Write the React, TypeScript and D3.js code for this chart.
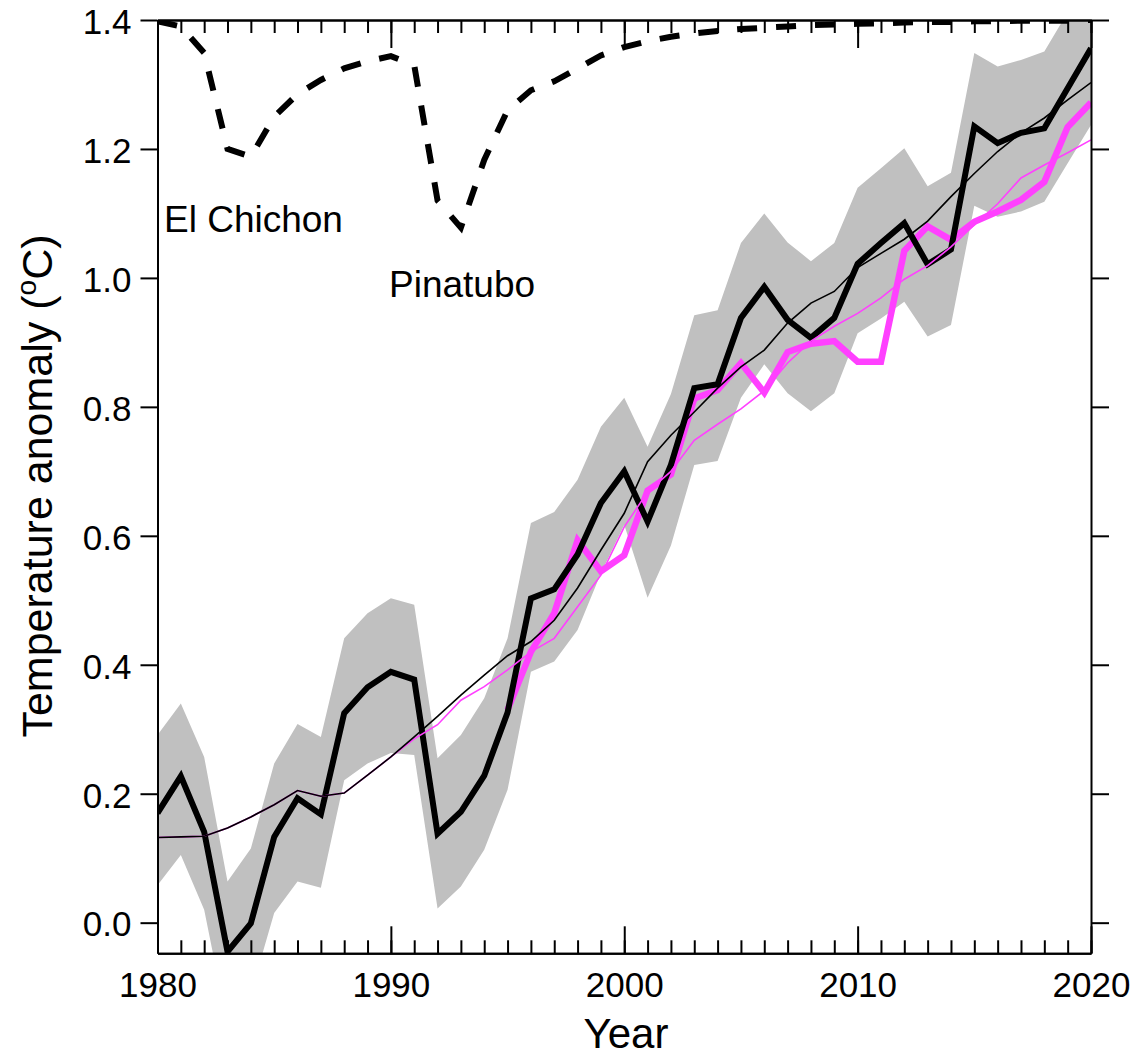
import React, { useEffect, useRef } from "react";
import * as d3 from "d3";

// annual values, 1980-2020
const years = [
  1980, 1981, 1982, 1983, 1984, 1985, 1986, 1987, 1988, 1989,
  1990, 1991, 1992, 1993, 1994, 1995, 1996, 1997, 1998, 1999,
  2000, 2001, 2002, 2003, 2004, 2005, 2006, 2007, 2008, 2009,
  2010, 2011, 2012, 2013, 2014, 2015, 2016, 2017, 2018, 2019, 2020,
];

// thick black line (observed)
const observed = [
  0.17, 0.227, 0.141, -0.045, -0.001, 0.133, 0.193, 0.168, 0.325, 0.365,
  0.389, 0.377, 0.138, 0.172, 0.228, 0.326, 0.503, 0.517, 0.571, 0.651,
  0.7, 0.622, 0.71, 0.829, 0.835, 0.938, 0.986, 0.935, 0.907, 0.938,
  1.022, 1.054, 1.085, 1.021, 1.044, 1.235, 1.209, 1.225, 1.232, 1.294, 1.356,
];

// grey uncertainty band
const bandUpper = [
  0.291, 0.34, 0.257, 0.064, 0.115, 0.247, 0.308, 0.288, 0.441, 0.48,
  0.503, 0.493, 0.255, 0.291, 0.348, 0.441, 0.62, 0.637, 0.687, 0.769,
  0.814, 0.738, 0.82, 0.942, 0.95, 1.054, 1.1, 1.055, 1.026, 1.054,
  1.14, 1.17, 1.201, 1.142, 1.163, 1.349, 1.328, 1.338, 1.351, 1.412, 1.47,
];
const bandLower = [
  0.058, 0.105, 0.02, -0.16, -0.11, 0.015, 0.064, 0.054, 0.221, 0.247,
  0.263, 0.26, 0.022, 0.056, 0.113, 0.206, 0.389, 0.405, 0.454, 0.542,
  0.617, 0.504, 0.585, 0.71, 0.716, 0.814, 0.866, 0.821, 0.793, 0.821,
  0.914, 0.937, 0.963, 0.909, 0.927, 1.112, 1.095, 1.103, 1.118, 1.178, 1.237,
];

// thin black line
const trendBlack = [
  0.132, 0.133, 0.134, 0.147, 0.164, 0.183, 0.205, 0.196, 0.201, 0.229,
  0.257, 0.288, 0.32, 0.353, 0.384, 0.414, 0.436, 0.469, 0.519, 0.578,
  0.635, 0.715, 0.756, 0.792, 0.829, 0.862, 0.888, 0.93, 0.961, 0.979,
  1.016, 1.038, 1.06, 1.088, 1.126, 1.162, 1.196, 1.225, 1.248, 1.276, 1.303,
];

// thin magenta line
const trendMagenta = [
  0.132, 0.133, 0.134, 0.147, 0.164, 0.183, 0.205, 0.196, 0.201, 0.229,
  0.257, 0.285, 0.307, 0.345, 0.366, 0.392, 0.42, 0.441, 0.49, 0.539,
  0.614, 0.668, 0.7, 0.748, 0.773, 0.797, 0.825, 0.868, 0.902, 0.925,
  0.945, 0.969, 0.998, 1.019, 1.048, 1.082, 1.115, 1.155, 1.175, 1.194, 1.214,
];

// thick magenta line, 1995-2020
const adjustedYears = [
  1995, 1996, 1997, 1998, 1999, 2000, 2001, 2002, 2003, 2004,
  2005, 2006, 2007, 2008, 2009, 2010, 2011, 2012, 2013, 2014,
  2015, 2016, 2017, 2018, 2019, 2020,
];
const adjusted = [
  0.33, 0.42, 0.48, 0.593, 0.545, 0.57, 0.67, 0.695, 0.813, 0.826,
  0.868, 0.822, 0.885, 0.898, 0.902, 0.87, 0.87, 1.042, 1.08, 1.059,
  1.087, 1.103, 1.121, 1.149, 1.234, 1.272,
];

// dashed line (volcanic signal)
const volcanic = [
  1.398, 1.39, 1.349, 1.2, 1.188, 1.25, 1.285, 1.307, 1.325, 1.336,
  1.344, 1.33, 1.12, 1.078, 1.183, 1.26, 1.291, 1.305, 1.325, 1.345,
  1.358, 1.367, 1.374, 1.379, 1.383, 1.386, 1.388, 1.39, 1.392, 1.393,
  1.394, 1.395, 1.396, 1.397, 1.397, 1.398, 1.398, 1.399, 1.399, 1.399, 1.4,
];

const yTicks = [0, 0.2, 0.4, 0.6, 0.8, 1.0, 1.2, 1.4];
const xMajorTicks = [1980, 1990, 2000, 2010, 2020];

const FONT = "'Liberation Sans', Arial, Helvetica, sans-serif";
const MAGENTA = "#ff40ff";

export default function App() {
  const ref = useRef<SVGSVGElement>(null);

  useEffect(() => {
    const width = 1139;
    const height = 1058;
    const left = 157.5, right = 1091, top = 20, bottom = 953.3;

    const svg = d3.select(ref.current);
    svg.selectAll("*").remove();
    svg.attr("width", width).attr("height", height);

    const x = d3.scaleLinear().domain([1980, 2020]).range([left, right]);
    const y = d3.scaleLinear().domain([-0.0475, 1.4]).range([bottom, top]);

    svg.append("defs")
      .append("clipPath")
      .attr("id", "plotclip")
      .append("rect")
      .attr("x", left)
      .attr("y", top)
      .attr("width", right - left)
      .attr("height", bottom - top);

    const plot = svg.append("g").attr("clip-path", "url(#plotclip)");

    const band = years.map((yr, i) => ({ yr, lo: bandLower[i], hi: bandUpper[i] }));
    plot.append("path")
      .datum(band)
      .attr("fill", "#c0c0c0")
      .attr("d", d3.area<any>().x(d => x(d.yr)).y0(d => y(d.lo)).y1(d => y(d.hi)));

    const line = d3.line<[number, number]>().x(d => x(d[0])).y(d => y(d[1]));
    const pts = (xs: number[], vs: number[]) => xs.map((yr, i) => [yr, vs[i]] as [number, number]);

    plot.append("path")
      .datum(pts(adjustedYears, adjusted))
      .attr("fill", "none")
      .attr("stroke", MAGENTA)
      .attr("stroke-width", 6.5)
      .attr("d", line);

    plot.append("path")
      .datum(pts(years, observed))
      .attr("fill", "none")
      .attr("stroke", "#000")
      .attr("stroke-width", 6)
      .attr("d", line);

    plot.append("path")
      .datum(pts(years, trendMagenta))
      .attr("fill", "none")
      .attr("stroke", MAGENTA)
      .attr("stroke-width", 1.6)
      .attr("d", line);

    plot.append("path")
      .datum(pts(years, trendBlack))
      .attr("fill", "none")
      .attr("stroke", "#000")
      .attr("stroke-width", 1.6)
      .attr("d", line);

    plot.append("path")
      .datum(pts(years, volcanic))
      .attr("fill", "none")
      .attr("stroke", "#000")
      .attr("stroke-width", 6)
      .attr("stroke-dasharray", "20,19")
      .attr("d", line);

    // axes
    const styleAxis = (g: any) => {
      g.selectAll("path").attr("stroke", "#000").attr("stroke-width", 2);
      g.selectAll("line").attr("stroke", "#000").attr("stroke-width", 2);
      g.selectAll("text").attr("fill", "#000").style("font-family", FONT).style("font-size", "35px");
    };

    const yearTicks = years;

    svg.append("g")
      .attr("transform", `translate(${left},0)`)
      .call(d3.axisLeft(y).tickValues(yTicks).tickFormat(d3.format(".1f")).tickSize(17).tickPadding(9).tickSizeOuter(0))
      .call(styleAxis)
      .call((g: any) => g.selectAll("text").attr("dy", "0.38em"));

    svg.append("g")
      .attr("transform", `translate(${right},0)`)
      .call(d3.axisRight(y).tickValues(yTicks).tickFormat(() => "").tickSize(18).tickSizeOuter(0))
      .call(styleAxis);

    svg.append("g")
      .attr("transform", `translate(0,${top})`)
      .call(d3.axisTop(x).tickValues(yearTicks).tickFormat(() => "").tickSize(-13).tickSizeOuter(0))
      .call(styleAxis);
    svg.append("g")
      .attr("transform", `translate(0,${top})`)
      .call(d3.axisTop(x).tickValues(xMajorTicks).tickFormat(() => "").tickSize(-28).tickSizeOuter(0))
      .call(styleAxis);

    svg.append("g")
      .attr("transform", `translate(0,${bottom})`)
      .call(d3.axisBottom(x).tickValues(yearTicks).tickFormat(() => "").tickSize(-13).tickSizeOuter(0))
      .call(styleAxis);
    svg.append("g")
      .attr("transform", `translate(0,${bottom})`)
      .call(d3.axisBottom(x).tickValues(xMajorTicks).tickFormat(d3.format("d")).tickSize(-27).tickPadding(18.5).tickSizeOuter(0))
      .call(styleAxis);

    // titles
    svg.append("text")
      .attr("x", 626)
      .attr("y", 1048)
      .attr("text-anchor", "middle")
      .style("font-family", FONT)
      .style("font-size", "42px")
      .text("Year");

    const yt = svg.append("text")
      .attr("transform", "translate(51.5,486) rotate(-90)")
      .attr("text-anchor", "middle")
      .style("font-family", FONT)
      .style("font-size", "43px");
    yt.append("tspan").text("Temperature anomaly (");
    yt.append("tspan").attr("dy", -16).style("font-size", "28px").text("o");
    yt.append("tspan").attr("dy", 16).text("C)");

    svg.append("text")
      .attr("x", 164)
      .attr("y", 231.5)
      .style("font-family", FONT)
      .style("font-size", "37px")
      .text("El Chichon");

    svg.append("text")
      .attr("x", 389)
      .attr("y", 296.5)
      .style("font-family", FONT)
      .style("font-size", "37px")
      .text("Pinatubo");
  }, []);

  return <svg ref={ref} style={{ position: "absolute", left: 0, top: 0, display: "block" }}></svg>;
}
